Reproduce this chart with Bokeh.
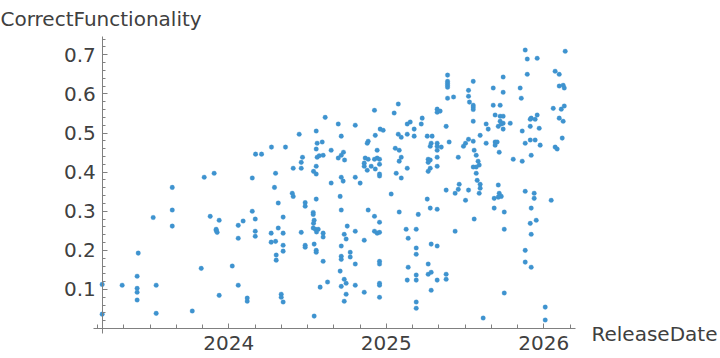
from bokeh.plotting import figure
from bokeh.models import FixedTicker, Label, Range1d
from bokeh.embed import file_html
from bokeh.resources import INLINE

# ReleaseDate as decimal years, CorrectFunctionality as fraction
release = [
    2023.196, 2023.196, 2023.323, 2023.418, 2023.425, 2023.418, 2023.418, 2023.418, 2023.520, 2023.539,
    2023.539, 2023.641, 2023.641, 2023.641,
    2023.768, 2023.825, 2023.844, 2023.882, 2023.907, 2023.939, 2023.920, 2023.920, 2023.926, 2023.939,
    2024.022, 2024.060, 2024.060, 2024.060, 2024.091, 2024.117, 2024.117,
    2024.447, 2024.555, 2024.612, 2024.561, 2024.593, 2024.271, 2024.360, 2024.555, 2024.170, 2024.208,
    2024.468, 2024.561, 2024.574, 2024.599, 2024.460, 2024.409, 2024.460, 2024.555, 2024.538, 2024.555,
    2024.149, 2024.297, 2024.290, 2024.403, 2024.409, 2024.485, 2024.485, 2024.314, 2024.555, 2024.149,
    2024.168, 2024.345, 2024.536, 2024.536, 2024.542, 2024.538, 2024.168, 2024.168, 2024.314, 2024.269,
    2024.345, 2024.460, 2024.536, 2024.550, 2024.568, 2024.557, 2024.599, 2024.599, 2024.269, 2024.297,
    2024.345, 2024.485, 2024.485, 2024.542, 2024.555, 2024.555, 2024.301, 2024.345, 2024.301, 2024.599,
    2024.627, 2024.580, 2024.333, 2024.333, 2024.345, 2024.542,
    2024.925, 2024.695, 2024.803, 2024.714, 2024.930, 2024.885, 2024.879, 2024.650, 2024.942, 2024.728,
    2024.714, 2024.695, 2024.735, 2024.866, 2024.885, 2024.925, 2024.942, 2024.957, 2024.860, 2024.860,
    2024.904, 2024.957, 2024.879, 2024.930, 2024.957, 2024.957, 2024.650, 2024.714, 2024.726, 2024.803,
    2024.834, 2024.707, 2024.714, 2024.885, 2024.925, 2024.752, 2024.957, 2024.733, 2024.745, 2024.803,
    2024.925, 2024.942, 2024.957, 2024.860, 2024.961, 2024.714, 2024.771, 2024.771, 2024.714, 2024.714,
    2024.803, 2024.957, 2024.957, 2024.707, 2024.733, 2024.714, 2024.745, 2024.803, 2024.957, 2024.957,
    2024.745, 2024.860, 2024.733, 2024.957,
    2025.076, 2025.050, 2025.323, 2025.323, 2025.342, 2025.228, 2025.152, 2025.133, 2025.222, 2025.177,
    2024.980, 2025.076, 2025.095, 2025.133, 2025.177, 2025.260, 2025.291, 2025.285, 2025.279, 2025.323,
    2025.323, 2025.323, 2025.057, 2025.082, 2025.095, 2025.082, 2025.323, 2025.266, 2025.279, 2025.266,
    2025.133, 2025.323, 2025.279, 2025.266, 2025.063, 2025.095, 2025.031, 2025.260, 2025.082, 2025.203,
    2025.279, 2025.323, 2025.126, 2025.190, 2025.139, 2025.285, 2025.323, 2025.190, 2025.190, 2025.139,
    2025.266, 2025.266, 2025.285, 2025.190, 2025.190, 2025.133, 2025.323, 2025.285, 2025.190, 2025.190,
    2025.389, 2025.389, 2025.389, 2025.389, 2025.389, 2025.522, 2025.522, 2025.528, 2025.427, 2025.389,
    2025.380, 2025.522, 2025.399, 2025.503, 2025.490, 2025.349, 2025.457, 2025.380, 2025.463, 2025.457,
    2025.437, 2025.522, 2025.503, 2025.437, 2025.380, 2025.380,
    2025.882, 2026.136, 2025.895, 2025.958, 2026.072, 2026.098, 2025.895, 2025.552, 2025.742, 2026.098,
    2026.123, 2026.130, 2025.850, 2025.679, 2025.742, 2025.857, 2025.552, 2025.552, 2025.552, 2025.679,
    2025.723, 2026.060, 2026.111, 2026.130, 2025.691, 2025.723, 2025.742, 2025.958, 2025.920, 2025.945,
    2025.914, 2026.098, 2026.123, 2025.552, 2025.723, 2025.742, 2025.730, 2025.711, 2025.787, 2025.634,
    2025.647, 2025.742, 2025.914, 2025.971, 2025.863, 2025.596, 2025.552, 2025.634, 2025.691, 2025.704,
    2025.691, 2025.882, 2025.914, 2025.945, 2025.977, 2026.117, 2026.072, 2026.085, 2025.717, 2025.558,
    2025.571, 2025.806, 2025.863, 2025.920, 2025.583, 2025.590, 2025.552, 2025.571, 2025.571, 2025.577,
    2025.596, 2025.596, 2025.590, 2025.711, 2025.717, 2025.730, 2025.711, 2025.685, 2025.882, 2025.939,
    2025.939, 2026.047, 2025.685, 2025.749, 2025.920, 2025.558, 2025.952, 2025.914, 2025.749, 2025.920,
    2025.882, 2025.882, 2025.920, 2025.749, 2026.009, 2025.615, 2026.009,
]

correct = [
    0.113, 0.037, 0.111, 0.134, 0.193, 0.103, 0.093, 0.073, 0.284, 0.111,
    0.039, 0.361, 0.303, 0.262,
    0.045, 0.154, 0.387, 0.287, 0.397, 0.277, 0.254, 0.251, 0.246, 0.085,
    0.160, 0.264, 0.231, 0.111, 0.275, 0.078, 0.070,
    0.497, 0.505, 0.540, 0.474, 0.477, 0.464, 0.464, 0.459, 0.446, 0.446,
    0.438, 0.438, 0.442, 0.443, 0.425, 0.410, 0.410, 0.415, 0.402, 0.395,
    0.385, 0.397, 0.361, 0.346, 0.338, 0.322, 0.313, 0.321, 0.331, 0.300,
    0.280, 0.285, 0.297, 0.292, 0.277, 0.269, 0.249, 0.236, 0.257, 0.244,
    0.244, 0.246, 0.257, 0.254, 0.254, 0.247, 0.244, 0.234, 0.221, 0.223,
    0.213, 0.213, 0.208, 0.216, 0.200, 0.195, 0.188, 0.198, 0.175, 0.172,
    0.119, 0.106, 0.088, 0.080, 0.068, 0.032,
    0.558, 0.523, 0.520, 0.492, 0.494, 0.479, 0.474, 0.456, 0.456, 0.451,
    0.443, 0.436, 0.431, 0.436, 0.433, 0.433, 0.436, 0.433, 0.423, 0.415,
    0.415, 0.420, 0.405, 0.408, 0.395, 0.390, 0.372, 0.387, 0.377, 0.387,
    0.372, 0.338, 0.303, 0.303, 0.287, 0.262, 0.272, 0.241, 0.229, 0.249,
    0.249, 0.244, 0.246, 0.226, 0.510, 0.211, 0.195, 0.183, 0.185, 0.177,
    0.165, 0.172, 0.165, 0.147, 0.126, 0.108, 0.116, 0.111, 0.116, 0.111,
    0.088, 0.093, 0.070, 0.080,
    0.574, 0.551, 0.561, 0.553, 0.556, 0.538, 0.528, 0.523, 0.523, 0.510,
    0.507, 0.497, 0.489, 0.497, 0.492, 0.492, 0.492, 0.474, 0.466, 0.474,
    0.466, 0.456, 0.461, 0.456, 0.438, 0.428, 0.438, 0.433, 0.431, 0.425,
    0.410, 0.415, 0.410, 0.402, 0.397, 0.385, 0.344, 0.331, 0.298, 0.292,
    0.308, 0.305, 0.254, 0.254, 0.231, 0.216, 0.211, 0.206, 0.190, 0.157,
    0.165, 0.139, 0.144, 0.137, 0.124, 0.124, 0.124, 0.098, 0.068, 0.052,
    0.648, 0.632, 0.627, 0.622, 0.617, 0.609, 0.594, 0.579, 0.592, 0.589,
    0.517, 0.484, 0.477, 0.474, 0.466, 0.464, 0.438, 0.354, 0.369, 0.356,
    0.346, 0.354, 0.328, 0.249, 0.139, 0.126,
    0.712, 0.709, 0.689, 0.691, 0.658, 0.650, 0.650, 0.632, 0.643, 0.620,
    0.622, 0.615, 0.615, 0.615, 0.604, 0.589, 0.571, 0.566, 0.560, 0.571,
    0.571, 0.563, 0.561, 0.569, 0.546, 0.543, 0.543, 0.546, 0.538, 0.535,
    0.535, 0.538, 0.530, 0.530, 0.530, 0.525, 0.523, 0.517, 0.525, 0.523,
    0.510, 0.510, 0.517, 0.512, 0.505, 0.494, 0.479, 0.474, 0.477, 0.477,
    0.469, 0.474, 0.482, 0.482, 0.469, 0.487, 0.464, 0.459, 0.451, 0.456,
    0.443, 0.433, 0.428, 0.443, 0.428, 0.418, 0.413, 0.413, 0.397, 0.379,
    0.369, 0.359, 0.346, 0.367, 0.346, 0.338, 0.336, 0.333, 0.351, 0.346,
    0.333, 0.328, 0.308, 0.298, 0.308, 0.280, 0.277, 0.269, 0.254, 0.241,
    0.200, 0.170, 0.157, 0.091, 0.055, 0.027, 0.022,
]

x_major = [2024, 2025, 2026]
x_minor = [2023 + k / 6 for k in range(1, 20)]
y_major = [0.1, 0.2, 0.3, 0.4, 0.5, 0.6, 0.7]
y_minor = [round(0.02 * k, 2) for k in range(0, 38)]

assert len(release) == len(correct)

FONT = "DejaVu Sans"
TXT = "#404040"
AX = "#808080"
FS = "20px"

# view window (whole canvas is the plotting frame; axes drawn at fixed positions)
X_VIEW = (2022.5505, 2027.1219)
Y_VIEW = (-0.0764, 0.8387)
X_AXIS_SPAN = (2023.141, 2026.201)
Y_AXIS_SPAN = (-0.0125, 0.7467)

p = figure(width=720, height=358, output_backend="svg", toolbar_location=None,
           x_range=Range1d(*X_VIEW), y_range=Range1d(*Y_VIEW),
           min_border_left=0, min_border_right=0, min_border_top=0, min_border_bottom=0)
p.outline_line_color = None
p.grid.visible = False
p.background_fill_color = "white"
p.border_fill_color = "white"

p.scatter(release, correct, size=4.6, fill_color="#3e93cf", line_color="#3e93cf", line_width=0.3)

xa = p.xaxis[0]
xa.fixed_location = 0
xa.bounds = X_AXIS_SPAN
xa.ticker = FixedTicker(ticks=x_major, minor_ticks=x_minor)
xa.major_tick_in = 5
xa.major_tick_out = 0
xa.minor_tick_in = 4
xa.minor_tick_out = 0
xa.major_label_standoff = 7

ya = p.yaxis[0]
ya.fixed_location = 2023.2
ya.bounds = Y_AXIS_SPAN
ya.ticker = FixedTicker(ticks=y_major, minor_ticks=y_minor)
ya.major_tick_in = 5
ya.major_tick_out = 0
ya.minor_tick_in = 3
ya.minor_tick_out = 0
ya.major_label_standoff = 7

for a in (xa, ya):
    a.axis_line_color = AX
    a.major_tick_line_color = AX
    a.minor_tick_line_color = AX
    a.major_label_text_font = FONT
    a.major_label_text_font_size = FS
    a.major_label_text_color = TXT

p.add_layout(Label(x=X_VIEW[0], y=0.7919, text="CorrectFunctionality", text_font=FONT,
                   text_font_size=FS, text_color=TXT, text_align="left",
                   text_baseline="alphabetic"))
p.add_layout(Label(x=2026.3029, y=-0.0133, text="ReleaseDate", text_font=FONT,
                   text_font_size=FS, text_color=TXT, text_align="left",
                   text_baseline="alphabetic"))

open("out.html", "w").write(file_html(p, INLINE))
